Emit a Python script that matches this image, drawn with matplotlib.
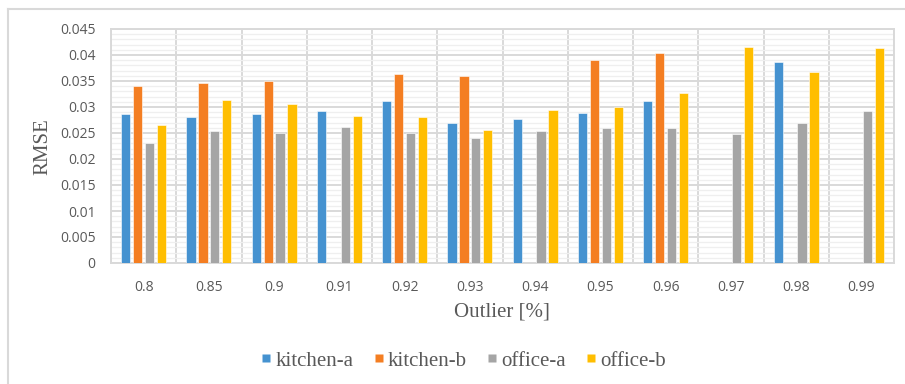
import numpy as np
import matplotlib
matplotlib.use("Agg")
import matplotlib.pyplot as plt
from matplotlib.lines import Line2D
from matplotlib.ticker import MultipleLocator

categories = ["0.8", "0.85", "0.9", "0.91", "0.92", "0.93", "0.94", "0.95",
              "0.96", "0.97", "0.98", "0.99"]
nan = np.nan
kitchen_a = [0.0287, 0.0280, 0.0287, 0.0292, 0.0311, 0.0269, 0.0277, 0.0289,
             0.0311, nan, 0.0386, nan]
kitchen_b = [0.0341, 0.0346, 0.0350, nan, 0.0364, 0.0360, nan, 0.0390,
             0.0404, nan, nan, nan]
office_a = [0.0231, 0.0253, 0.0250, 0.0262, 0.0250, 0.0241, 0.0253, 0.0260,
            0.0260, 0.0249, 0.0270, 0.0292]
office_b = [0.0265, 0.0313, 0.0306, 0.0283, 0.0280, 0.0255, 0.0294, 0.0300,
            0.0326, 0.0415, 0.0367, 0.0414]
series_names = ["kitchen-a", "kitchen-b", "office-a", "office-b"]
colors = ["#4592D0", "#F47E22", "#A5A5A5", "#FFBE00"]

W, H = 905, 384
fig = plt.figure(figsize=(W / 100, H / 100), dpi=100)
fig.patch.set_facecolor("white")

grid_major = "#D9D9D9"
grid_minor = "#EFEFEF"

ax = fig.add_axes([111 / W, 1 - 263 / H, (894 - 111) / W, (263 - 29) / H])
x = np.arange(len(categories))
slot = 0.182
width = 0.143
for i, (vals, name, c) in enumerate(zip([kitchen_a, kitchen_b, office_a, office_b],
                                        series_names, colors)):
    ax.bar(x + (i - 1.5) * slot, vals, width, color=c, label=name,
           edgecolor="white", linewidth=0.4, zorder=3)

ax.set_xlim(-0.5, len(categories) - 0.5)
ax.set_ylim(0, 0.045)
ax.yaxis.set_major_locator(MultipleLocator(0.005))
ax.yaxis.set_minor_locator(MultipleLocator(0.001))
ax.set_xticks(x)
ax.set_xticklabels(categories)
ax.set_yticklabels(["0" if v == 0 else f"{v:g}" for v in ax.get_yticks()])
ax.set_xticks(np.arange(len(categories) + 1) - 0.5, minor=True)

ax.grid(which="major", axis="y", color=grid_major, linewidth=1.4, zorder=1)
ax.grid(which="minor", axis="y", color=grid_minor, linewidth=0.9, zorder=0)
ax.grid(which="minor", axis="x", color=grid_major, linewidth=1.4, zorder=1)
ax.grid(which="major", axis="x", visible=False)
for s in ax.spines.values():
    s.set_color(grid_major)
    s.set_linewidth(1.4)

ax.tick_params(which="both", length=0, colors="#595959", labelsize=10)
ax.tick_params(axis="x", pad=12)
ax.tick_params(axis="y", pad=11)
for lab in ax.get_xticklabels() + ax.get_yticklabels():
    lab.set_fontfamily("Open Sans")
    lab.set_color("#595959")

serif = "Liberation Serif"
fig.text(43 / W, 1 - 147 / H, "RMSE", rotation=90, ha="center", va="center",
         fontsize=15, family=serif, color="#595959")
fig.text(502 / W, 1 - 312 / H, "Outlier [%]", ha="center", va="center",
         fontsize=15, family=serif, color="#595959")

# square colour keys for the legend
handles = [Line2D([], [], linestyle="none", marker="s", markersize=5.4,
                  markerfacecolor=c, markeredgecolor="none") for c in colors]
leg = fig.legend(handles, series_names, loc="center",
                 bbox_to_anchor=(464 / W, 1 - 361 / H), ncol=4,
                 frameon=False, prop={"family": serif, "size": 15},
                 handlelength=0.4, handletextpad=0.25,
                 columnspacing=1.0, borderpad=0)
for t in leg.get_texts():
    t.set_color("#595959")

# chart frame
fig.add_artist(Line2D([8 / W, 8 / W], [0, 1 - 9 / H], transform=fig.transFigure,
                      color=grid_major, linewidth=1.5))
fig.add_artist(Line2D([8 / W, 1], [1 - 9 / H, 1 - 9 / H], transform=fig.transFigure,
                      color=grid_major, linewidth=1.5))

fig.savefig("out.png", dpi=100)
